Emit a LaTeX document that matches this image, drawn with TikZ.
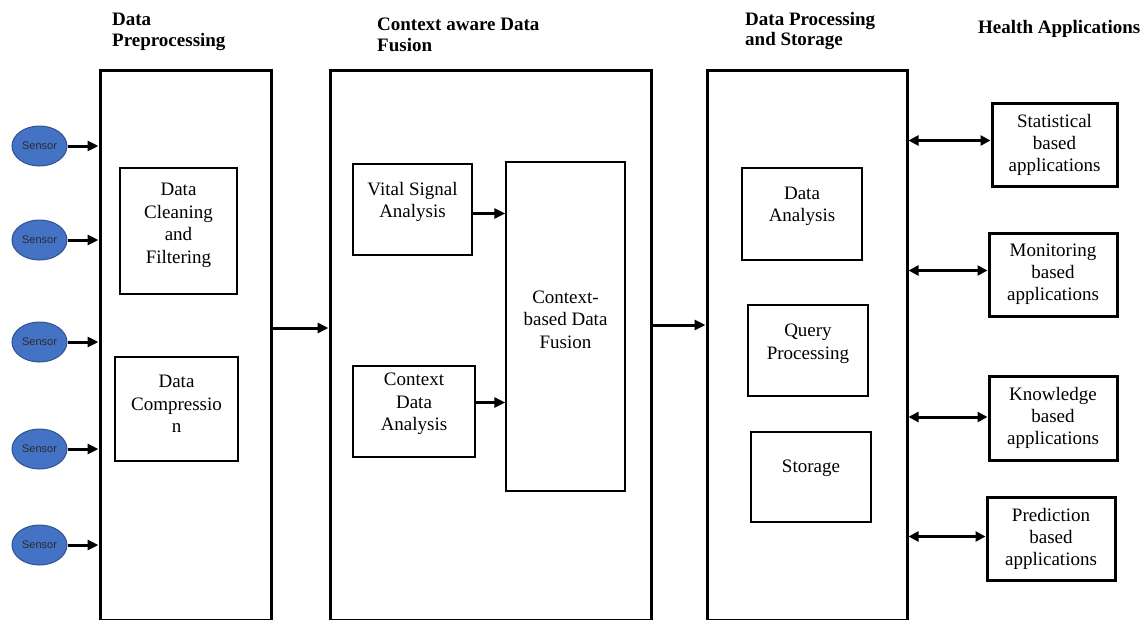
\documentclass[tikz,border=0pt]{standalone}
\usepackage{fontspec}
\setmainfont{Liberation Serif}
\newfontfamily\sensorfont{Liberation Sans}
\usetikzlibrary{arrows.meta,shapes.geometric,calc}
\definecolor{sensorblue}{HTML}{4472C4}
\definecolor{sensoredge}{HTML}{2F528F}
\definecolor{sensortext}{HTML}{2B2B2B}
\begin{document}
\begin{tikzpicture}[x=1pt,y=-1pt,
  outerbox/.style={draw,line width=3pt,inner sep=0pt,anchor=north},
  innerbox/.style={draw,line width=1.3pt,inner sep=0pt},
  appbox/.style={draw,line width=3pt,inner sep=0pt,align=center,font=\fontsize{19}{22}\selectfont},
  tl/.style={align=center,font=\fontsize{19}{22.5}\selectfont,inner sep=0pt},
  header/.style={anchor=north west,inner sep=0pt,align=left,font=\bfseries\fontsize{19}{20.5}\selectfont},
  sensor/.style={ellipse,draw=sensoredge,line width=1pt,fill=sensorblue,minimum width=55pt,minimum height=40pt,inner sep=0pt,font=\sensorfont\fontsize{11}{12}\selectfont,text=sensortext},
  arr/.style={line width=3pt,-{Triangle[length=11pt,width=10pt]}},
  darr/.style={line width=3pt,{Triangle[length=10pt,width=10pt]}-{Triangle[length=10pt,width=10pt]}}
]
\useasboundingbox (0,0) rectangle (1146,619);
\clip (0,0) rectangle (1146,619);

% headers
\node[header] (h1) at (112,13) {Data\\Preprocessing};
\node[header] (h2) at (377,18) {Context aware Data\\Fusion};
\node[header] (h3) at (745,12) {Data Processing\\and Storage};
\node[header] (h4) at (978,20) {Health Applications};

% outer boxes
\node[outerbox,minimum width=171pt,minimum height=550pt] (pre) at (185.5,69) {};
\node[outerbox,minimum width=321pt,minimum height=550pt] (fus) at (490.5,69) {};
\node[outerbox,minimum width=200pt,minimum height=550pt] (sto) at (807,69) {};

% inner boxes
\node[innerbox,minimum width=117pt,minimum height=126pt,
  label={[tl,yshift=5.5pt]center:{Data\\Cleaning\\and\\Filtering}}] (clean) at (178.5,231) {};
\node[innerbox,minimum width=123pt,minimum height=104pt,
  label={[tl,yshift=5pt]center:{Data\\Compressio\\n}}] (comp) at (176.5,409) {};
\node[innerbox,minimum width=119pt,minimum height=91pt,
  label={[tl,yshift=7.5pt]center:{Vital Signal\\Analysis}}] (vital) at (412.5,209.5) {};
\node[innerbox,minimum width=122pt,minimum height=91pt,
  label={[tl,yshift=7.5pt]center:{Context\\Data\\Analysis}}] (ctx) at (414,411.5) {};
\node[innerbox,minimum width=119pt,minimum height=329pt,
  label={[tl,yshift=7pt]center:{Context-\\based Data\\Fusion}}] (cbf) at (565.5,326.5) {};
\node[innerbox,minimum width=120pt,minimum height=92pt,
  label={[tl,yshift=7.5pt]center:{Data\\Analysis}}] (da) at (802,214) {};
\node[innerbox,minimum width=120pt,minimum height=91pt,
  label={[tl,yshift=6.5pt]center:{Query\\Processing}}] (qp) at (808,350.5) {};
\node[innerbox,minimum width=120pt,minimum height=90pt,
  label={[tl,yshift=9pt]center:{Storage}}] (st) at (811,477) {};

% application boxes
\node[appbox,minimum width=125pt,minimum height=83pt] (stat) at (1054.5,144.5) {Statistical\\based\\applications};
\node[appbox,minimum width=128pt,minimum height=83pt] (mon) at (1053,274.5) {Monitoring\\based\\applications};
\node[appbox,minimum width=128pt,minimum height=84pt] (kno) at (1053,418) {Knowledge\\based\\applications};
\node[appbox,minimum width=128pt,minimum height=83pt] (pred) at (1051,538.5) {Prediction\\based\\applications};

% sensors
\node[sensor] (s1) at (39.5,146) {Sensor};
\node[sensor] (s2) at (39.5,240) {Sensor};
\node[sensor] (s3) at (39.5,342) {Sensor};
\node[sensor] (s4) at (39.5,449) {Sensor};
\node[sensor] (s5) at (39.5,545) {Sensor};

\foreach \s in {s1,s2,s3,s4,s5}{
  \draw[arr] (\s.east) -- (\s.east -| pre.west);
}

% flow arrows
\coordinate (y1) at (0,328);
\coordinate (y2) at (0,325);
\draw[arr] (pre.east |- y1) -- (fus.west |- y1);
\draw[arr] (fus.east |- y2) -- (sto.west |- y2);
\draw[arr] ([yshift=-4pt]vital.east) -- ([yshift=-4pt]vital.east -| cbf.west);
\draw[arr] ([yshift=9pt]ctx.east) -- ([yshift=9pt]ctx.east -| cbf.west);

% double arrows
\draw[darr] ([yshift=4pt]stat.west -| sto.east) -- ([yshift=4pt]stat.west);
\draw[darr] ([yshift=4pt]mon.west -| sto.east) -- ([yshift=4pt]mon.west);
\draw[darr] ([yshift=1pt]kno.west -| sto.east) -- ([yshift=1pt]kno.west);
\draw[darr] ([yshift=2pt]pred.west -| sto.east) -- ([yshift=2pt]pred.west);
\end{tikzpicture}
\end{document}
